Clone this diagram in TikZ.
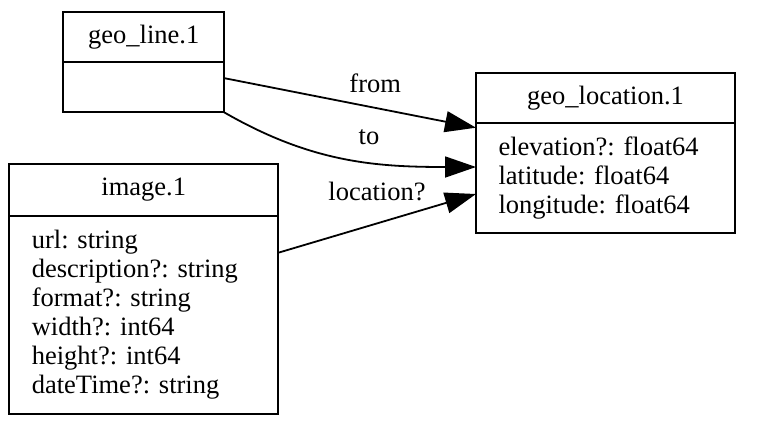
\documentclass[tikz,border=0pt]{standalone}
\usepackage{fontspec}
\setmainfont{Liberation Serif}
\usepackage{tikz}
\usetikzlibrary{arrows.meta, positioning}
\frenchspacing

\begin{document}
\begin{tikzpicture}[
            x=1pt, y=-1pt,
            every node/.style={font=\fontsize{26.5}{29}\selectfont},
            title/.style={draw, line width=1.8pt, inner sep=0pt, outer sep=0pt, align=center},
            fields/.style={draw, line width=1.8pt, inner sep=0pt, outer sep=0pt, inner xsep=22.5pt, align=left},
            link/.style={-{Triangle[length=31pt, width=21pt]}, line width=1.8pt},
            lbl/.style={inner sep=1pt}
        ]
            \useasboundingbox (0,0) rectangle (758,440);

            % geo_line
            \node[title, minimum width=160.7pt, minimum height=50.3pt] (line) at (143.7,36.8) {geo\_line.1};
            \node[fields, minimum width=160.7pt, minimum height=50.3pt, below=0pt of line] (linebody) {};

            % image
            \node[title, minimum width=268.7pt, minimum height=51.7pt] (image) at (143.7,189.8) {image.1};
            \node[fields, text width=223.7pt, minimum height=198.3pt, below=0pt of image] (imagebody) {url: string\\description?: string\\format?: string\\width?: int64\\height?: int64\\dateTime?: string};

            % geo_location
            \node[title, minimum width=259pt, minimum height=49.4pt] (loc) at (605.5,98) {geo\_location.1};
            \node[fields, text width=214pt, minimum height=110pt, below=0pt of loc] (locbody) {elevation?: float64\\latitude: float64\\longitude: float64};

            \draw[link] ([yshift=9pt]linebody.east) -- node[lbl, pos=0.6, yshift=25pt] (from) {from} ([yshift=50pt]locbody.west);
            \draw[link] (linebody.south east) to[out=-30, in=180] node[lbl, pos=0.6, yshift=25pt] (to) {to} ([yshift=10.7pt]locbody.west);
            \draw[link] ([yshift=62pt]imagebody.east) -- node[lbl, pos=0.5, yshift=32pt] (locn) {location?} ([yshift=-16.3pt]locbody.west);
        \end{tikzpicture}
\end{document}
